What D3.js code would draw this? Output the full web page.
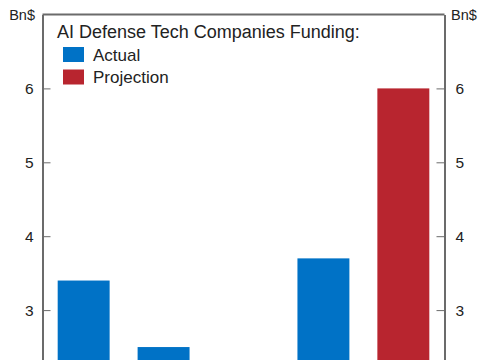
<!DOCTYPE html>
<html><head><meta charset="utf-8">
<script src="https://cdn.jsdelivr.net/npm/d3@7"></script>
<style>html,body{margin:0;padding:0;background:#fff;overflow:hidden}</style>
</head><body>
<script>
const categories = ["2021", "2022", "2023", "2024", "2025F"];
const values = [3.4, 2.5, 2.0, 3.7, 6.0];
const seriesType = ["Actual", "Actual", "Actual", "Actual", "Projection"];
const yTicks = [3, 4, 5, 6];
const legendItems = ["Actual", "Projection"];
const colors = {Actual: "#0072C6", Projection: "#B8252F"};

const W = 485, H = 360;
const m = {left: 42.5, right: 40.5, top: 14.5};
const plotBottom = 14.5 + 7 * 73.9;
const svg = d3.select("body").append("svg").attr("width", W).attr("height", H)
  .style("font-family", "'Liberation Sans', Arial, sans-serif");

const x = d3.scaleBand().domain(categories).range([m.left, W - m.right]).paddingInner(0.35).paddingOuter(0.19);
const y = d3.scaleLinear().domain([0, 7]).range([plotBottom, m.top]);

svg.selectAll("rect.bar").data(categories).join("rect").attr("class", "bar")
  .attr("x", d => x(d)).attr("width", x.bandwidth())
  .attr("y", (d, i) => y(values[i])).attr("height", (d, i) => y(0) - y(values[i]))
  .attr("fill", (d, i) => colors[seriesType[i]]);

const axisColor = "#6b6b6b";
const fmt = d3.format("d");
const left = svg.append("g").attr("transform", `translate(${m.left},0)`)
  .call(d3.axisLeft(y).tickValues(yTicks).tickFormat(fmt).tickSizeInner(-8).tickSizeOuter(0).tickPadding(9));
const right = svg.append("g").attr("transform", `translate(${W - m.right},0)`)
  .call(d3.axisRight(y).tickValues(yTicks).tickFormat(fmt).tickSizeInner(-8).tickSizeOuter(0).tickPadding(11));
[left, right].forEach(g => {
  g.select(".domain").attr("stroke", axisColor).attr("stroke-width", 2);
  g.selectAll(".tick line").attr("stroke", axisColor).attr("stroke-width", 1);
  g.selectAll(".tick text").attr("fill", "#222").attr("font-size", 15.5).style("font-family", "'Liberation Sans', Arial, sans-serif");
});
svg.append("line").attr("x1", m.left).attr("x2", W - m.right).attr("y1", m.top).attr("y2", m.top)
  .attr("stroke", axisColor).attr("stroke-width", 2);

svg.append("text").attr("x", 35).attr("y", 20).attr("text-anchor", "end").attr("font-size", 14.5).attr("fill", "#222").text("Bn$");
svg.append("text").attr("x", 451).attr("y", 20).attr("text-anchor", "start").attr("font-size", 14.5).attr("fill", "#222").text("Bn$");

svg.append("text").attr("x", 57).attr("y", 37.5).attr("font-size", 18).attr("fill", "#222").text("AI Defense Tech Companies Funding:");
const lg = svg.selectAll("g.leg").data(legendItems).join("g").attr("class", "leg")
  .attr("transform", (d, i) => `translate(63,${47 + i * 22.5})`);
lg.append("rect").attr("width", 21).attr("height", 15).attr("fill", d => colors[d]);
lg.append("text").attr("x", 30).attr("y", 13.5).attr("font-size", 17).attr("fill", "#222").text(d => d);
</script>
</body></html>
